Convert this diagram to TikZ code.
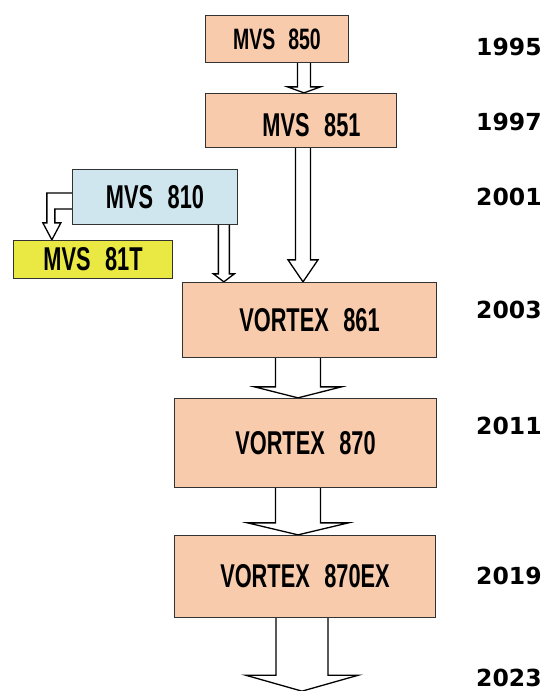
\documentclass[tikz,border=0pt]{standalone}
\usepackage{fontspec}
\usepackage{tikz}
\usepackage{xcolor}
\definecolor{peach}{RGB}{248,203,173}
\definecolor{iceblue}{RGB}{207,230,238}
\definecolor{lemon}{RGB}{234,232,66}
\definecolor{edge}{RGB}{50,50,50}
\newfontfamily\boxfont[FakeStretch=0.66,WordSpace=2.4]{Liberation Sans}
\newfontfamily\yearfont{DejaVu Sans}
\usetikzlibrary{calc,backgrounds}

\tikzset{
  box/.style={draw=edge, line width=1.3pt, inner sep=0pt,
              font=\boxfont\bfseries\fontsize{33}{33}\selectfont},
  year/.style={anchor=west, inner sep=0pt,
               font=\yearfont\bfseries\fontsize{23.5}{24}\selectfont},
  blockarrow/.style={draw=black, fill=white, line width=1.3pt, line join=miter}
}
% fat arrow: #1 start ref, #2 tip, #3 half shaft, #4 half head, #5 head length
\newcommand{\fatarrow}[5]{%
  \draw[blockarrow] ($(#2 |- #1)+(-#3,0)$) -- ($(#2)+(-#3,-#5)$)
    -- ($(#2)+(-#4,-#5)$) -- (#2) -- ($(#2)+(#4,-#5)$)
    -- ($(#2)+(#3,-#5)$) -- ($(#2 |- #1)+(#3,0)$);}

\begin{document}
\begin{tikzpicture}[x=1pt,y=-1pt]
    \useasboundingbox (0,0) rectangle (546,691);

    % models
    \node[box, fill=peach, minimum width=143, minimum height=47,
          font=\boxfont\bfseries\fontsize{29.5}{30}\selectfont] (n850) at (277,39) {MVS 850};
    \node[box, fill=peach, minimum width=191, minimum height=54] (n851) at (301,120.5)
        {\raisebox{-5pt}[\height][\depth]{\hspace*{21pt}MVS 851}};
    \node[box, fill=iceblue, minimum width=165, minimum height=55] (n810) at (155,197) {MVS 810};
    \node[box, fill=lemon, minimum width=159, minimum height=38] (n81T) at (93,259.5) {MVS 81T};
    \node[box, fill=peach, minimum width=254, minimum height=75] (n861) at (309.5,320) {VORTEX 861};
    \node[box, fill=peach, minimum width=262, minimum height=89] (n870) at (305.5,443) {VORTEX 870};
    \node[box, fill=peach, minimum width=261, minimum height=82] (n870ex) at (305,576.5) {VORTEX 870EX};

    % years
    \node[year] (y1995) at (476,47) {1995};
    \node[year] (y1997) at (476,122) {1997};
    \node[year] (y2001) at (476,197) {2001};
    \node[year] (y2003) at (476,310) {2003};
    \node[year] (y2011) at (476,426) {2011};
    \node[year] (y2019) at (476,576) {2019};
    \node[year] (y2023) at (476,678) {2023};

    \coordinate (t851) at ($(n851.north)+(3,0)$);
    \coordinate (t861a) at ($(n861.north)+(-6.5,0)$);
    \coordinate (t861b) at ($(n861.north west)+(42,0)$);
    \coordinate (t870) at ($(n870.north)+(-7.5,0)$);
    \coordinate (t870ex) at ($(n870ex.north)+(-7,0)$);
    \coordinate (tnext) at ($(n870ex.south)+(-3,73)$);
    \coordinate (t81T) at ($(n81T.north west)+(39,0)$);

    \begin{scope}[on background layer]
        \fatarrow{n850.south}{t851}{6.5}{16.5}{6}
        \fatarrow{n851.south}{t861a}{7.5}{15}{22}
        \fatarrow{n810.south}{t861b}{5.5}{10.5}{8}
        \fatarrow{n861.south}{t870}{22.5}{43.5}{11}
        \fatarrow{n870.south}{t870ex}{22.5}{50.5}{12}
        \fatarrow{n870ex.south}{tnext}{26}{56.5}{16}
        \draw[blockarrow] ($(n810.west)+(0,-4)$) -| ($(t81T)+(-5,-17)$) -- ++(-4,0)
            -- (t81T) -- ++(9,-17) -- ++(-6,0) |- ($(n810.west)+(0,12)$);
    \end{scope}
\end{tikzpicture}
\end{document}
